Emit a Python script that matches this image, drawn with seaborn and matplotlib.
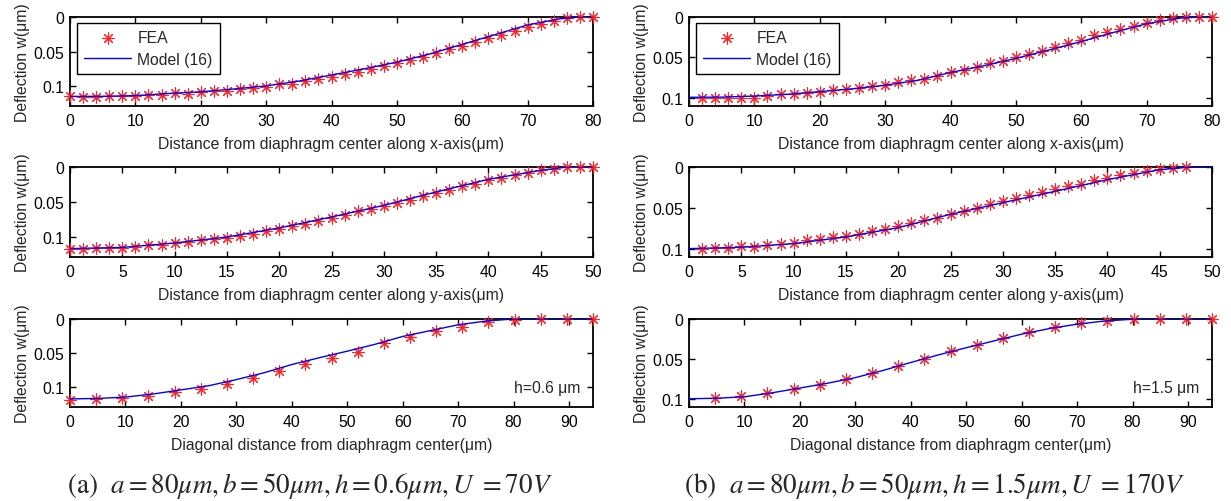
import numpy as np
import pandas as pd
import matplotlib
matplotlib.use("Agg")
import matplotlib.pyplot as plt
import seaborn as sns

# ---------------- data ----------------
# (a) h = 0.6 um
xa_top_fea = [0, 2, 4, 6, 8, 10, 12, 14, 16, 18, 20, 22, 24, 26, 28, 30, 32, 34, 36, 38, 40,
              42, 44, 46, 48, 50, 52, 54, 56, 58, 60, 62, 64, 66, 68, 70, 72, 74, 76, 78, 80]
wa_top_fea = [0.1147, 0.1161, 0.1160, 0.1147, 0.1147, 0.1138, 0.1124, 0.1124, 0.1100, 0.1105,
              0.1090, 0.1067, 0.1062, 0.1038, 0.1029, 0.1014, 0.0970, 0.0970, 0.0917, 0.0900,
              0.0860, 0.0830, 0.0790, 0.0750, 0.0710, 0.0670, 0.0620, 0.0576, 0.0514, 0.0467,
              0.0420, 0.0360, 0.0310, 0.0257, 0.0205, 0.0138, 0.0100, 0.0052, 0.0014, 0.0, 0.0]
xa_top_mod = [0, 5, 10, 15, 20, 25, 30, 35, 40, 45, 50, 55, 60, 65, 70, 75, 78, 80]
wa_top_mod = [0.1147, 0.1145, 0.1135, 0.1105, 0.1080, 0.1040, 0.0995, 0.0925, 0.0838, 0.0748,
              0.0652, 0.0535, 0.0395, 0.0255, 0.0114, 0.0025, 0.0, 0.0]

xa_mid_fea = [0, 1.25, 2.5, 3.75, 5, 6.25, 7.5, 8.75, 10, 11.25, 12.5, 13.75, 15, 16.25, 17.5,
              18.75, 20, 21.25, 22.5, 23.75, 25, 26.25, 27.5, 28.75, 30, 31.25, 32.5, 33.75, 35,
              36.25, 37.5, 38.75, 40, 41.25, 42.5, 43.75, 45, 46.25, 47.5, 48.75, 50]
wa_mid_fea = [0.1167, 0.1170, 0.1153, 0.1153, 0.1153, 0.1143, 0.1120, 0.1110, 0.1086, 0.1070,
              0.1048, 0.1033, 0.1010, 0.0986, 0.0962, 0.0920, 0.0881, 0.0843, 0.0810, 0.0771,
              0.0724, 0.0690, 0.0633, 0.0605, 0.0557, 0.0514, 0.0467, 0.0419, 0.0371, 0.0324,
              0.0271, 0.0238, 0.0190, 0.0157, 0.0119, 0.0086, 0.0048, 0.0024, 0.0, 0.0, 0.0]
xa_mid_mod = [0, 5, 10, 15, 20, 25, 30, 35, 40, 45, 47.5, 50]
wa_mid_mod = [0.1165, 0.1148, 0.1085, 0.1000, 0.0870, 0.0714, 0.0548, 0.0357, 0.0176, 0.0048,
              0.0, 0.0]

xa_dia_fea = [0, 4.717, 9.434, 14.151, 18.868, 23.585, 28.302, 33.019, 37.736, 42.453, 47.17,
              51.887, 56.604, 61.321, 66.038, 70.755, 75.472, 80.189, 84.906, 89.623, 94.34]
wa_dia_fea = [0.1176, 0.1167, 0.1152, 0.1118, 0.1069, 0.1020, 0.0946, 0.0868, 0.0760, 0.0656,
              0.0574, 0.0475, 0.0353, 0.0270, 0.0181, 0.0113, 0.0049, 0.0010, 0.0, 0.0, 0.0]
xa_dia_mod = [0, 5, 10, 15, 20, 25, 30, 35, 40, 45, 50, 55, 60, 65, 70, 75, 80, 85, 90, 94.34]
wa_dia_mod = [0.1167, 0.1160, 0.1140, 0.1095, 0.1035, 0.0975, 0.0885, 0.0785, 0.0665, 0.0565,
              0.0470, 0.0370, 0.0255, 0.0170, 0.0085, 0.0030, 0.0, 0.0, 0.0, 0.0]

# (b) h = 1.5 um
xb_top_fea = [2, 4, 6, 8, 10, 12, 14, 16, 18, 20, 22, 24, 26, 28, 30, 32, 34, 36, 38, 40,
              42, 44, 46, 48, 50, 52, 54, 56, 58, 60, 62, 64, 66, 68, 70, 72, 74, 76, 78, 80]
wb_top_fea = [0.1010, 0.1010, 0.1000, 0.1000, 0.1000, 0.0980, 0.0958, 0.0958, 0.0946, 0.0930,
              0.0908, 0.0896, 0.0883, 0.0854, 0.0846, 0.0804, 0.0779, 0.0771, 0.0729, 0.0679,
              0.0654, 0.0625, 0.0575, 0.0542, 0.0500, 0.0458, 0.0417, 0.0375, 0.0325, 0.0279,
              0.0229, 0.0188, 0.0146, 0.0113, 0.0071, 0.0042, 0.0013, 0.0, 0.0, 0.0]
xb_top_mod = [0, 5, 10, 15, 20, 25, 30, 35, 40, 45, 50, 55, 60, 65, 70, 75, 78, 80]
wb_top_mod = [0.0995, 0.0993, 0.0980, 0.0958, 0.0925, 0.0890, 0.0846, 0.0785, 0.0688, 0.0605,
              0.0513, 0.0410, 0.0304, 0.0190, 0.0083, 0.0015, 0.0, 0.0]

xb_mid_fea = [1.25, 2.5, 3.75, 5, 6.25, 7.5, 8.75, 10, 11.25, 12.5, 13.75, 15, 16.25, 17.5,
              18.75, 20, 21.25, 22.5, 23.75, 25, 26.25, 27.5, 28.75, 30, 31.25, 32.5, 33.75, 35,
              36.25, 37.5, 38.75, 40, 41.25, 42.5, 43.75, 45, 46.25, 47.5]
wb_mid_fea = [0.1000, 0.0992, 0.0988, 0.0971, 0.0980, 0.0959, 0.0947, 0.0931, 0.0898, 0.0886,
              0.0857, 0.0845, 0.0816, 0.0784, 0.0755, 0.0727, 0.0682, 0.0653, 0.0620, 0.0571,
              0.0539, 0.0498, 0.0457, 0.0420, 0.0380, 0.0347, 0.0306, 0.0265, 0.0233, 0.0204,
              0.0163, 0.0135, 0.0102, 0.0073, 0.0053, 0.0020, 0.0012, 0.0]
xb_mid_mod = [0, 5, 10, 15, 20, 25, 30, 35, 40, 45, 47.5, 50]
wb_mid_mod = [0.1000, 0.0984, 0.0939, 0.0857, 0.0743, 0.0580, 0.0437, 0.0298, 0.0155, 0.0033,
              0.0005, 0.0]

xb_dia_fea = [4.717, 9.434, 14.151, 18.868, 23.585, 28.302, 33.019, 37.736, 42.453, 47.17,
              51.887, 56.604, 61.321, 66.038, 70.755, 75.472, 80.189, 84.906, 89.623, 94.34]
wb_dia_fea = [0.0992, 0.0971, 0.0929, 0.0875, 0.0825, 0.0750, 0.0675, 0.0583, 0.0496, 0.0404,
              0.0325, 0.0242, 0.0167, 0.0104, 0.0054, 0.0021, 0.0, 0.0, 0.0, 0.0]
xb_dia_mod = [0, 5, 10, 15, 20, 25, 30, 35, 40, 45, 50, 55, 60, 65, 70, 75, 80, 85, 90, 94.34]
wb_dia_mod = [0.1000, 0.0993, 0.0975, 0.0925, 0.0865, 0.0805, 0.0735, 0.0645, 0.0545, 0.0450,
              0.0360, 0.0275, 0.0190, 0.0120, 0.0065, 0.0025, 0.0003, 0.0, 0.0, 0.0]

xlabels = ["Distance from diaphragm center along x-axis(\u03bcm)",
           "Distance from diaphragm center along y-axis(\u03bcm)",
           "Diagonal distance from diaphragm center(\u03bcm)"]
ylabel = "Deflection w(\u03bcm)"
xticks_rows = [[0, 10, 20, 30, 40, 50, 60, 70, 80],
               [0, 5, 10, 15, 20, 25, 30, 35, 40, 45, 50],
               [0, 10, 20, 30, 40, 50, 60, 70, 80, 90]]
xmax_rows = [80, 50, 94.34]
yticks = [0, 0.05, 0.1]
ytick_labels = ["0", "0.05", "0.1"]
ymax_cols = [0.1285, 0.1103]
h_labels = ["h=0.6 \u03bcm", "h=1.5 \u03bcm"]
captions = [r"(a)  $a=80\mu m, b=50\mu m, h=0.6\mu m, U\ =70V$",
            r"(b)  $a=80\mu m, b=50\mu m, h=1.5\mu m, U\ =170V$"]

panels = [
    [(xa_top_fea, wa_top_fea, xa_top_mod, wa_top_mod),
     (xa_mid_fea, wa_mid_fea, xa_mid_mod, wa_mid_mod),
     (xa_dia_fea, wa_dia_fea, xa_dia_mod, wa_dia_mod)],
    [(xb_top_fea, wb_top_fea, xb_top_mod, wb_top_mod),
     (xb_mid_fea, wb_mid_fea, xb_mid_mod, wb_mid_mod),
     (xb_dia_fea, wb_dia_fea, xb_dia_mod, wb_dia_mod)],
]

# ---------------- style ----------------
FS = 11.3
sns.set_theme(style="ticks")
plt.rcParams["font.family"] = ["Liberation Sans", "DejaVu Sans"]
plt.rcParams.update({
    "mathtext.fontset": "stix",
    "font.size": FS,
    "axes.linewidth": 1.3,
    "axes.edgecolor": "black",
    "xtick.direction": "in",
    "ytick.direction": "in",
    "xtick.top": True,
    "ytick.right": True,
    "xtick.major.size": 4,
    "ytick.major.size": 4,
    "xtick.major.width": 1.0,
    "ytick.major.width": 1.0,
    "xtick.major.pad": 5,
    "ytick.major.pad": 4,
    "xtick.labelsize": FS,
    "ytick.labelsize": FS,
    "axes.labelsize": FS,
    "xtick.color": "black",
    "ytick.color": "black",
})

W, H = 1231, 502
fig = plt.figure(figsize=(W / 100, H / 100), dpi=100)

col_left = [70, 689]
col_width = 523
row_top = [18, 168, 320]
row_bottom = [107, 258, 408]

asterisk = (8, 2, 0)

for c in range(2):
    for r in range(3):
        xf, wf, xm, wm = panels[c][r]
        left = col_left[c] / W
        bottom = 1 - row_bottom[r] / H
        height = (row_bottom[r] - row_top[r]) / H
        ax = fig.add_axes([left, bottom, col_width / W, height])
        df_f = pd.DataFrame({"x": xf, "w": wf})
        df_m = pd.DataFrame({"x": xm, "w": wm})
        sns.scatterplot(data=df_f, x="x", y="w", ax=ax, marker=asterisk, s=64,
                        color="#ff2020", linewidth=0.8, label="FEA", zorder=2,
                        legend=False, clip_on=False)
        sns.lineplot(data=df_m, x="x", y="w", ax=ax, color="#0000ff", linewidth=1.0,
                     label="Model (16)", zorder=3, legend=False, sort=False)
        ax.set_xlim(0, xmax_rows[r])
        ax.set_ylim(ymax_cols[c], 0)
        ax.set_xticks(xticks_rows[r])
        ax.set_yticks(yticks)
        ax.set_yticklabels(ytick_labels)
        ax.set_xlabel(xlabels[r], labelpad=6)
        ax.set_ylabel(ylabel, labelpad=3)
        for s in ax.spines.values():
            s.set_visible(True)
            s.set_color("black")
            s.set_zorder(1)
        if r == 0:
            leg = ax.legend(loc="upper left", bbox_to_anchor=(0.0134, 0.935),
                            borderaxespad=0, frameon=True, fancybox=False,
                            edgecolor="black", framealpha=1, handlelength=3.0,
                            handletextpad=0.4, labelspacing=0.45, borderpad=0.45,
                            fontsize=FS)
            leg.get_frame().set_linewidth(1.0)
        if r == 2:
            ax.text(0.975, 0.22, h_labels[c], transform=ax.transAxes, ha="right",
                    va="center", fontsize=FS)

for c in range(2):
    fig.text([67, 684][c] / W, 1 - 486 / H, captions[c], ha="left", va="center",
             fontsize=19.5, family="STIXGeneral")

fig.savefig("out.png", dpi=100)
